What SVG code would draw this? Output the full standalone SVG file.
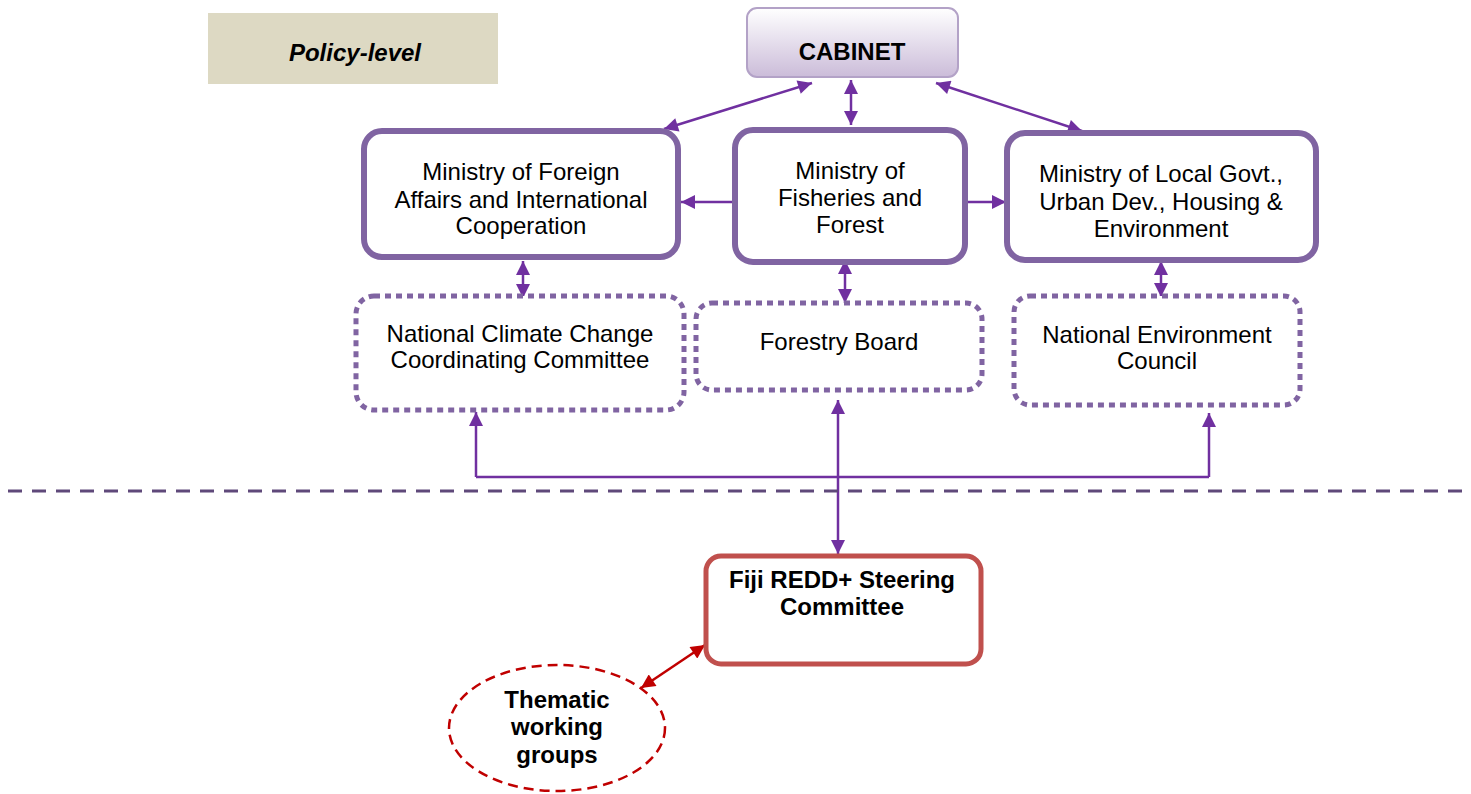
<svg xmlns="http://www.w3.org/2000/svg" width="1471" height="794" viewBox="0 0 1471 794">
<defs>
<linearGradient id="cabg" x1="0" y1="0" x2="0" y2="1">
<stop offset="0" stop-color="#ffffff"/>
<stop offset="1" stop-color="#cbbcd9"/>
</linearGradient>
<marker id="ap" viewBox="0 0 10 10" refX="10" refY="5" markerWidth="15" markerHeight="14" markerUnits="userSpaceOnUse" orient="auto-start-reverse">
<path d="M0,0 L10,5 L0,10 z" fill="#7030a0"/>
</marker>
<marker id="ar" viewBox="0 0 10 10" refX="10" refY="5" markerWidth="15" markerHeight="14" markerUnits="userSpaceOnUse" orient="auto-start-reverse">
<path d="M0,0 L10,5 L0,10 z" fill="#c00000"/>
</marker>
</defs>
<style>
text{font-family:"Liberation Sans",Arial,sans-serif;font-size:24px;fill:#000;text-anchor:middle}
.b{font-weight:bold}
.min{fill:#fff;stroke:#8064a2;stroke-width:6}
.dot{fill:#fff;stroke:#8064a2;stroke-width:5;stroke-dasharray:6 5}
.con{fill:none;stroke:#7030a0;stroke-width:2.5}
</style>
<rect width="1471" height="794" fill="#fff"/>
<g id="policy-level">
<rect x="208" y="13" width="290" height="71" fill="#ddd9c3"/>
<text x="355" y="61" class="b" font-style="italic">Policy-level</text>
</g>
<g id="connectors">
<line class="con" x1="812" y1="83" x2="664" y2="129" marker-start="url(#ap)" marker-end="url(#ap)"/>
<line class="con" x1="851" y1="80" x2="851" y2="125" marker-start="url(#ap)" marker-end="url(#ap)"/>
<line class="con" x1="936" y1="83" x2="1082" y2="131" marker-start="url(#ap)" marker-end="url(#ap)"/>
<line class="con" x1="734" y1="202" x2="681" y2="202" marker-end="url(#ap)"/>
<line class="con" x1="966" y1="202" x2="1006" y2="202" marker-end="url(#ap)"/>
<line class="con" x1="523" y1="261" x2="523" y2="298" marker-start="url(#ap)" marker-end="url(#ap)"/>
<line class="con" x1="845" y1="260" x2="845" y2="303" marker-start="url(#ap)" marker-end="url(#ap)"/>
<line class="con" x1="1161" y1="261" x2="1161" y2="297" marker-start="url(#ap)" marker-end="url(#ap)"/>
<polyline class="con" points="476,477 1209,477"/>
<line class="con" x1="476" y1="477" x2="476" y2="412" marker-end="url(#ap)"/>
<line class="con" x1="1209" y1="477" x2="1209" y2="413" marker-end="url(#ap)"/>
<line class="con" x1="838" y1="400" x2="838" y2="554" marker-start="url(#ap)" marker-end="url(#ap)"/>
<line x1="705" y1="645" x2="641" y2="688" stroke="#c00000" stroke-width="2.5" marker-start="url(#ar)" marker-end="url(#ar)"/>
</g>
<line id="divider" x1="8" y1="491" x2="1463" y2="491" stroke="#5f497a" stroke-width="3" stroke-dasharray="14 10"/>
<g id="cabinet">
<rect x="747" y="8" width="211" height="69" rx="10" fill="url(#cabg)" stroke="#b3a2c7" stroke-width="2"/>
<text x="852" y="60" class="b">CABINET</text>
</g>
<g id="min-foreign">
<rect class="min" x="364" y="131" width="314" height="126" rx="18"/>
<text x="521" y="180">Ministry of Foreign</text>
<text x="521" y="208">Affairs and International</text>
<text x="521" y="234">Cooperation</text>
</g>
<g id="min-fisheries">
<rect class="min" x="735" y="130" width="230" height="132" rx="18"/>
<text x="850" y="179">Ministry of</text>
<text x="850" y="206">Fisheries and</text>
<text x="850" y="233">Forest</text>
</g>
<g id="min-local">
<rect class="min" x="1007" y="133" width="309" height="127" rx="18"/>
<text x="1161" y="182">Ministry of Local Govt.,</text>
<text x="1161" y="210">Urban Dev., Housing &amp;</text>
<text x="1161" y="237">Environment</text>
</g>
<g id="nccc">
<rect class="dot" x="356" y="296" width="328" height="114" rx="18"/>
<text x="520" y="342">National Climate Change</text>
<text x="520" y="368">Coordinating Committee</text>
</g>
<g id="forestry-board">
<rect class="dot" x="696" y="303" width="286" height="87" rx="16"/>
<text x="839" y="350">Forestry Board</text>
</g>
<g id="nec">
<rect class="dot" x="1014" y="296" width="286" height="109" rx="16"/>
<text x="1157" y="343">National Environment</text>
<text x="1157" y="369">Council</text>
</g>
<g id="redd-sc">
<rect x="706" y="556" width="275" height="108" rx="15" fill="#fff" stroke="#c0504d" stroke-width="5"/>
<text x="842" y="588" class="b">Fiji REDD+ Steering</text>
<text x="842" y="615" class="b">Committee</text>
</g>
<g id="thematic">
<ellipse cx="557" cy="728" rx="108" ry="63" fill="#fff" stroke="#c00000" stroke-width="2.5" stroke-dasharray="10 6"/>
<text x="557" y="708" class="b">Thematic</text>
<text x="557" y="735" class="b">working</text>
<text x="557" y="763" class="b">groups</text>
</g>
</svg>
